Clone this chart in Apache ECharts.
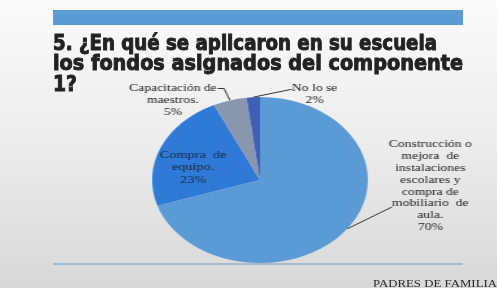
<!DOCTYPE html>
<html>
<head>
<meta charset="utf-8">
<script src="https://cdn.jsdelivr.net/npm/echarts@6/dist/echarts.min.js"></script>
<style>
  html, body { margin: 0; padding: 0; width: 497px; height: 288px; overflow: hidden; }
  #main { position: absolute; left: 0; top: 0; width: 497px; height: 288px; }
  /* the slide was stretched sideways, so the pie layer is too */
  #pie { position: absolute; left: 0; top: 0; width: 382px; height: 288px; transform: scaleX(1.3); transform-origin: 0 0; }
</style>
</head>
<body>
<div id="main"></div>
<div id="pie"></div>
<script>
const titleLines = ["5. ¿En qué se aplicaron en su escuela", "los fondos asignados del componente", "1?"];
const categories = [
  "Construcción o mejora de instalaciones escolares y compra de mobiliario de aula.",
  "Compra de equipo.",
  "Capacitación de maestros.",
  "No lo se"
];
const labelTexts = [
  "Construcción o\nmejora  de\ninstalaciones\nescolares y\ncompra de\nmobiliario  de\naula.",
  "Compra  de\nequipo.",
  "Capacitación de\nmaestros.",
  "No lo se"
];
const values = [70, 23, 5, 2];
const footer = "PADRES DE FAMILIA";

const colors = ["#5b9bd5", "#2e7ad6", "#8897ad", "#3f5fb6"];

// measure text so that it can be squeezed to the slide widths
const ctx = document.createElement("canvas").getContext("2d");
function fit(text, font, width) {
  ctx.font = font;
  return width / ctx.measureText(text).width;
}

const titleFont = 'bold 21px "DejaVu Sans Condensed", "DejaVu Sans", sans-serif';
const s1 = fit(titleLines[0], titleFont, 384);
const s2 = fit(titleLines[1], titleFont, 410);
const titleScale = [s1, s2, (s1 + s2) / 2];
const titleBase = [55, 75, 96];

const footFont = '10px "Liberation Serif", serif';

var mainChart = echarts.init(document.getElementById("main"));
mainChart.setOption({
  backgroundColor: {
    type: "linear", x: 0, y: 0, x2: 0, y2: 1,
    colorStops: [
      { offset: 0, color: "#fbfbfb" },
      { offset: 0.5, color: "#ececec" },
      { offset: 1, color: "#d8d8d8" }
    ]
  },
  animation: false,
  graphic: [
    { type: "rect", shape: { x: 53, y: 10, width: 410, height: 15 }, style: { fill: "#5b9bd5" } },
    ...titleLines.map((t, i) => ({
      type: "text",
      x: 53,
      y: titleBase[i],
      scaleX: titleScale[i],
      style: {
        text: t, font: titleFont, fill: "#222222",
        stroke: "#222222", lineWidth: 0.9, verticalAlign: "bottom"
      }
    })),
    { type: "line", shape: { x1: 53, y1: 264, x2: 463, y2: 264 }, style: { stroke: "#97afc9", lineWidth: 1.5 } },
    {
      type: "text",
      x: 373,
      y: 289,
      scaleX: fit(footer, footFont, 124),
      style: { text: footer, font: footFont, fill: "#2b2b2b", verticalAlign: "bottom" }
    }
  ]
});

// where each label sits (pie layer coords) and where its leader line bends
const labelSpots = [
  { x: 331, y: 186, line: [[301.5, 207], [301.5, 207]] },
  { x: 148.5, y: 167.5 },
  { x: 133, y: 100, line: [[172.3, 88.5], [167.5, 88.5]] },
  { x: 242, y: 94.5, line: [[223.5, 89.5], [224.6, 89.5]] }
];

var pieChart = echarts.init(document.getElementById("pie"));
pieChart.setOption({
  animation: false,
  series: [
    {
      type: "pie",
      center: [200, 180],
      radius: 83,
      startAngle: 90,
      clockwise: true,
      avoidLabelOverlap: false,
      itemStyle: { borderWidth: 0 },
      label: {
        formatter: p => labelTexts[p.dataIndex] + "\n" + p.value + "%",
        fontFamily: '"Liberation Serif", serif',
        fontSize: 10.5,
        lineHeight: 11.8,
        color: "#222222",
        align: "center"
      },
      labelLine: { show: true, lineStyle: { color: "#333333", width: 1 } },
      labelLayout: function (params) {
        const spot = labelSpots[params.dataIndex];
        const out = { x: spot.x, y: spot.y, align: "center", verticalAlign: "middle" };
        if (spot.line && params.labelLinePoints) {
          out.labelLinePoints = [params.labelLinePoints[0], spot.line[0], spot.line[1]];
        }
        return out;
      },
      data: values.map((v, i) => ({
        name: categories[i],
        value: v,
        itemStyle: { color: colors[i] },
        label: i === 1
          ? { position: "inside", fontSize: 11, lineHeight: 12.5, color: "#1b2845" }
          : { position: "outside" },
        labelLine: { show: i !== 1 }
      }))
    }
  ]
});
</script>
</body>
</html>
